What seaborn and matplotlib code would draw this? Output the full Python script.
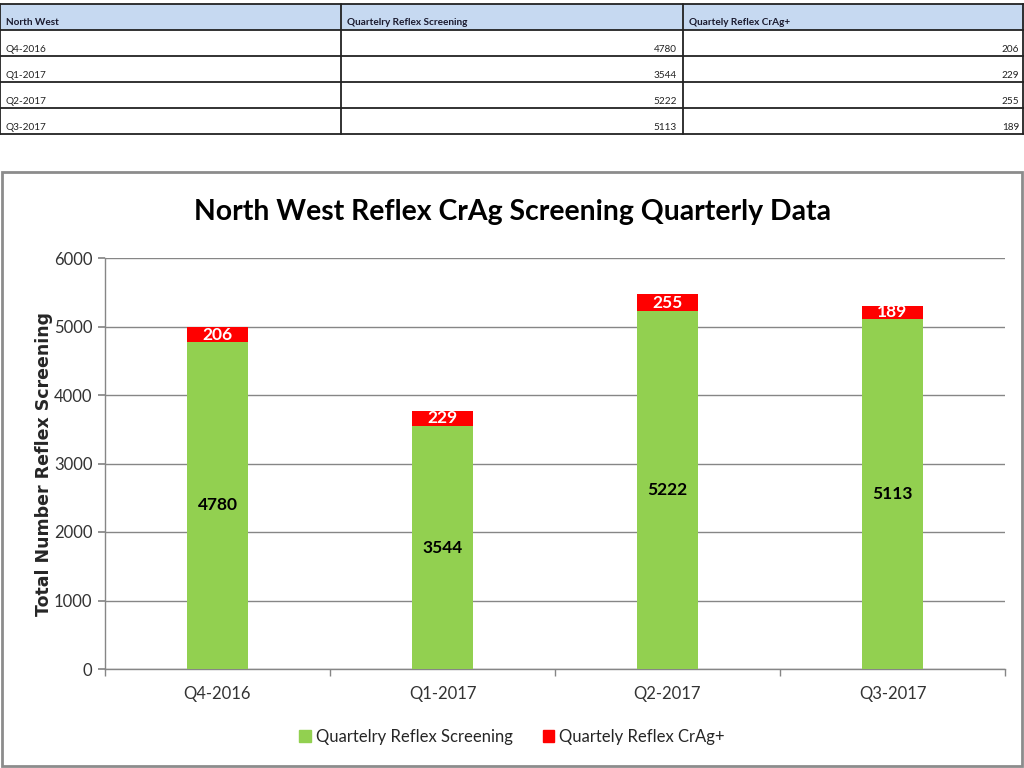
import matplotlib
matplotlib.use("Agg")
import matplotlib.pyplot as plt
from matplotlib.patches import Rectangle
import numpy as np
import pandas as pd
import seaborn as sns

quarters = ["Q4-2016", "Q1-2017", "Q2-2017", "Q3-2017"]
screening = [4780, 3544, 5222, 5113]
crag_pos = [206, 229, 255, 189]
table_header = ["North West", "Quartelry Reflex Screening", "Quartely Reflex CrAg+"]
series_names = ["Quartelry Reflex Screening", "Quartely Reflex CrAg+"]
title = "North West Reflex CrAg Screening Quarterly Data"
y_label = "Total Number Reflex Screening"
y_ticks = [0, 1000, 2000, 3000, 4000, 5000, 6000]

GREEN = "#92D050"
RED = "#FF0000"
GRID = "#868686"

sns.set_theme(style="white")
plt.rcParams["font.family"] = ["Lato", "DejaVu Sans"]

W, H = 1024, 768
fig = plt.figure(figsize=(W / 100, H / 100), dpi=100)

# pixel-coordinate overlay for the table and chart frame
bg = fig.add_axes([0, 0, 1, 1], zorder=0)
bg.set_xlim(0, W)
bg.set_ylim(H, 0)
bg.axis("off")

row_edges = [4, 30, 56, 82, 108, 134]
col_edges = [0, 341, 683, 1023]
bg.add_patch(Rectangle((0, row_edges[0]), W, row_edges[1] - row_edges[0],
                       facecolor="#C6D9F1", edgecolor="none"))
for y in row_edges:
    bg.plot([0, W], [y, y], color="#222222", lw=1.3)
for x in col_edges:
    bg.plot([x, x], [row_edges[0], row_edges[-1]], color="#222222", lw=1.3)
for c, txt in enumerate(table_header):
    bg.text(col_edges[c] + 6, row_edges[1] - 3, txt, fontsize=7.2,
            fontweight="bold", color="#1a1a2e", va="bottom", ha="left")
for r, q in enumerate(quarters):
    yb = row_edges[r + 2] - 2
    bg.text(6, yb, q, fontsize=7.2, va="bottom", ha="left", color="#222222")
    bg.text(col_edges[2] - 6, yb, str(screening[r]), fontsize=7.2,
            va="bottom", ha="right", color="#222222")
    bg.text(col_edges[3] - 4, yb, str(crag_pos[r]), fontsize=7.2,
            va="bottom", ha="right", color="#222222")

# chart frame
bg.add_patch(Rectangle((2, 172), 1020, 594, facecolor="white",
                       edgecolor="#8c8c8c", lw=2))
bg.text(512, 212, title, fontsize=20.4, fontweight="bold", ha="center",
        va="center", color="black")

df = pd.DataFrame({"quarter": quarters, "screening": screening, "crag": crag_pos})
df["total"] = df["screening"] + df["crag"]

ax = fig.add_axes([105 / W, 1 - 669 / H, 900 / W, 411 / H], zorder=1)
ax.patch.set_alpha(0)
sns.barplot(df, x="quarter", y="total", color=RED, width=0.267,
            saturation=1, linewidth=0, ax=ax, zorder=2)
sns.barplot(df, x="quarter", y="screening", color=GREEN, width=0.267,
            saturation=1, linewidth=0, ax=ax, zorder=3)

ax.set_ylim(0, 6000)
ax.set_xlim(-0.5, len(quarters) - 0.5)
ax.set_yticks(y_ticks)
ax.set_yticklabels([str(t) for t in y_ticks], fontsize=12, color="#333333")
ax.yaxis.grid(True, color=GRID, lw=1)
ax.set_axisbelow(True)
for s in ["top", "right"]:
    ax.spines[s].set_visible(False)
for s in ["left", "bottom"]:
    ax.spines[s].set_color(GRID)
    ax.spines[s].set_linewidth(1)
ax.tick_params(axis="y", length=5, color=GRID, left=True, pad=4)
ax.set_xticks(np.arange(len(quarters) + 1) - 0.5, minor=True)
ax.set_xticks(np.arange(len(quarters)))
ax.set_xticklabels(quarters, fontsize=12, color="#333333")
ax.tick_params(axis="x", which="major", length=0, pad=12)
ax.tick_params(axis="x", which="minor", length=5, color=GRID, bottom=True)
ax.set_xlabel("")
ax.set_ylabel(y_label, fontsize=12.5, fontweight="bold",
              family=["DejaVu Sans"], labelpad=1)

for i, row in df.iterrows():
    ax.text(i, row["screening"] / 2, str(row["screening"]), ha="center",
            va="center", fontsize=12.5, fontweight="bold", color="black", zorder=5)
    ax.text(i, row["screening"] + row["crag"] / 2, str(row["crag"]),
            ha="center", va="center", fontsize=12.5, fontweight="bold",
            color="white", zorder=5)

handles = [Rectangle((0, 0), 1, 1, color=GREEN), Rectangle((0, 0), 1, 1, color=RED)]
fig.legend(handles, series_names, loc="center", bbox_to_anchor=(512 / W, 1 - 737 / H),
           ncol=2, frameon=False, fontsize=12, handlelength=0.7,
           handleheight=0.7, handletextpad=0.3, columnspacing=1.8)

fig.savefig("out.png", dpi=100)
